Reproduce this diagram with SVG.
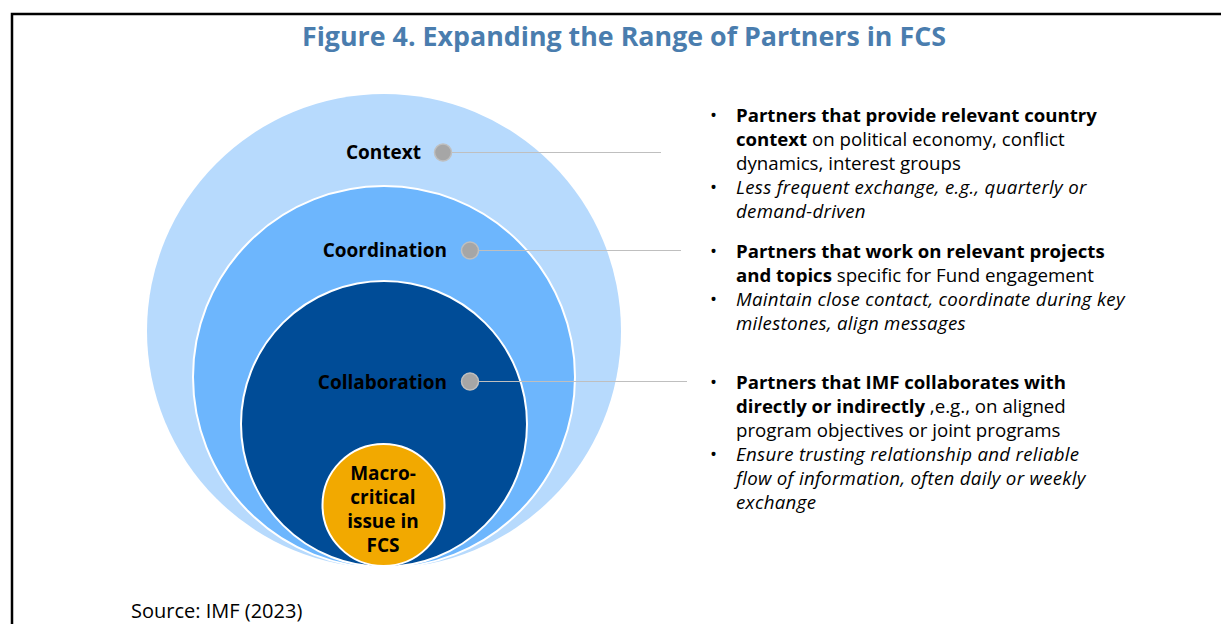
<svg xmlns="http://www.w3.org/2000/svg" width="1221" height="624" viewBox="0 0 1221 624">
<style>
text{font-family:"Open Sans","Noto Sans","Liberation Sans",sans-serif;fill:#000}
.title{font-size:26.8px;font-weight:700;fill:#4A7DAE}
.lab{font-size:19px;font-weight:700}
.body{font-size:18.7px}
.b{font-weight:700;font-size:18.6px}
.i{font-style:italic;font-size:18.7px;letter-spacing:0.3px}
.dot{fill:#A6A6A6;stroke:#BFBFBF;stroke-width:1.5}
.lead{stroke:#BFBFBF;stroke-width:1;fill:none}
</style>
<rect width="1221" height="624" fill="#fff"/>
<path d="M12 624V14H1221" fill="none" stroke="#000" stroke-width="2.5"/>
<text class="title" x="624" y="46" text-anchor="middle">Figure 4. Expanding the Range of Partners in FCS</text>
<g id="context">
<circle cx="384" cy="331" r="237" fill="#B7DAFD"/>
<text class="lab" x="421" y="159" text-anchor="end">Context</text>
</g>
<g id="coordination">
<circle cx="384" cy="377" r="191" fill="#6DB6FD" stroke="#fff" stroke-width="2"/>
<text class="lab" x="447" y="257" text-anchor="end">Coordination</text>
</g>
<g id="collaboration">
<circle cx="384" cy="424" r="143" fill="#004C97" stroke="#fff" stroke-width="2"/>
<text class="lab" x="447" y="389" text-anchor="end">Collaboration</text>
</g>
<g id="macro">
<circle cx="383.5" cy="505" r="61" fill="#F2A900" stroke="#fff" stroke-width="2"/>
<text class="lab" text-anchor="middle"><tspan x="383" y="480">Macro-</tspan><tspan x="383" y="504">critical</tspan><tspan x="383" y="528">issue in</tspan><tspan x="383" y="552">FCS</tspan></text>
</g>
<g id="connectors">
<line class="lead" x1="443" y1="152.5" x2="661" y2="152.5"/>
<line class="lead" x1="470" y1="250.5" x2="681" y2="250.5"/>
<line class="lead" x1="470" y1="381.5" x2="687" y2="381.5"/>
<circle class="dot" cx="443" cy="152.5" r="8.5"/>
<circle class="dot" cx="470" cy="250.5" r="8.5"/>
<circle class="dot" cx="470" cy="381.5" r="8.5"/>
</g>
<g id="context-text" class="body">
<text x="710" y="122">•</text>
<text x="736" y="122"><tspan class="b">Partners that provide relevant country</tspan></text>
<text x="736" y="146"><tspan class="b">context</tspan> on political economy, conflict</text>
<text x="736" y="170">dynamics, interest groups</text>
<text x="710" y="194">•</text>
<text x="736" y="194" class="i">Less frequent exchange, e.g., quarterly or</text>
<text x="736" y="218" class="i">demand-driven</text>
</g>
<g id="coordination-text" class="body">
<text x="710" y="258">•</text>
<text x="736" y="258"><tspan class="b">Partners that work on relevant projects</tspan></text>
<text x="736" y="282"><tspan class="b">and topics</tspan> specific for Fund engagement</text>
<text x="710" y="306">•</text>
<text x="736" y="306" class="i">Maintain close contact, coordinate during key</text>
<text x="736" y="330" class="i">milestones, align messages</text>
</g>
<g id="collaboration-text" class="body">
<text x="710" y="389">•</text>
<text x="736" y="389"><tspan class="b">Partners that IMF collaborates with</tspan></text>
<text x="736" y="413"><tspan class="b">directly or indirectly</tspan> ,e.g., on aligned</text>
<text x="736" y="437">program objectives or joint programs</text>
<text x="710" y="461">•</text>
<text x="736" y="461" class="i">Ensure trusting relationship and reliable</text>
<text x="736" y="485" class="i">flow of information, often daily or weekly</text>
<text x="736" y="509" class="i">exchange</text>
</g>
<text x="131" y="618" style="font-size:20px">Source: IMF (2023)</text>
</svg>
